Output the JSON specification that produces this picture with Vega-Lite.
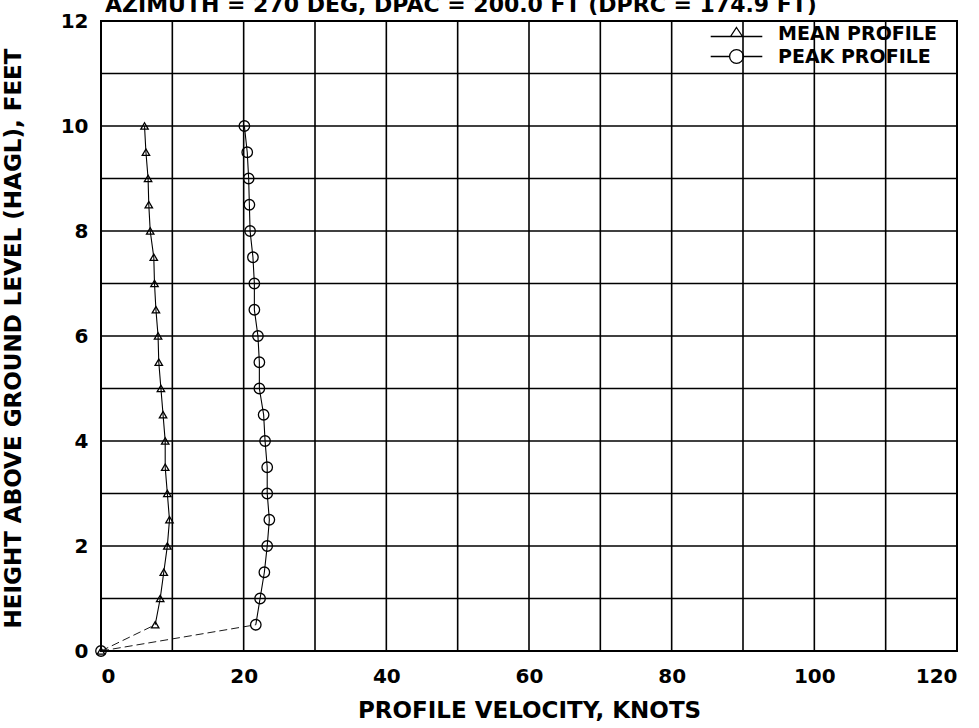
{
  "$schema": "https://vega.github.io/schema/vega-lite/v6.json",
  "width": 856,
  "height": 630,
  "autosize": {"type": "none"},
  "padding": {"left": 101, "top": 21, "right": 22, "bottom": 77},
  "background": "white",
  "config": {
    "view": {"stroke": "black", "strokeWidth": 2},
    "font": "DejaVu Sans"
  },
  "title": {
    "text": "AZIMUTH = 270 DEG, DPAC = 200.0 FT (DPRC = 174.9 FT)",
    "anchor": "start",
    "frame": "group",
    "offset": -6,
    "dx": 4,
    "font": "DejaVu Sans",
    "fontSize": 22,
    "fontWeight": "bold",
    "color": "black"
  },
  "datasets": {
    "profiles": [
      {"s": "MEAN PROFILE", "h": 0, "v": 0},
      {"s": "MEAN PROFILE", "h": 0.5, "v": 7.6},
      {"s": "MEAN PROFILE", "h": 1, "v": 8.3},
      {"s": "MEAN PROFILE", "h": 1.5, "v": 8.8},
      {"s": "MEAN PROFILE", "h": 2, "v": 9.3},
      {"s": "MEAN PROFILE", "h": 2.5, "v": 9.6},
      {"s": "MEAN PROFILE", "h": 3, "v": 9.3},
      {"s": "MEAN PROFILE", "h": 3.5, "v": 9.0},
      {"s": "MEAN PROFILE", "h": 4, "v": 9.0},
      {"s": "MEAN PROFILE", "h": 4.5, "v": 8.7},
      {"s": "MEAN PROFILE", "h": 5, "v": 8.4},
      {"s": "MEAN PROFILE", "h": 5.5, "v": 8.1},
      {"s": "MEAN PROFILE", "h": 6, "v": 8.0},
      {"s": "MEAN PROFILE", "h": 6.5, "v": 7.7},
      {"s": "MEAN PROFILE", "h": 7, "v": 7.5},
      {"s": "MEAN PROFILE", "h": 7.5, "v": 7.4},
      {"s": "MEAN PROFILE", "h": 8, "v": 6.9},
      {"s": "MEAN PROFILE", "h": 8.5, "v": 6.7},
      {"s": "MEAN PROFILE", "h": 9, "v": 6.6},
      {"s": "MEAN PROFILE", "h": 9.5, "v": 6.3},
      {"s": "MEAN PROFILE", "h": 10, "v": 6.1},
      {"s": "PEAK PROFILE", "h": 0, "v": 0},
      {"s": "PEAK PROFILE", "h": 0.5, "v": 21.7},
      {"s": "PEAK PROFILE", "h": 1, "v": 22.3},
      {"s": "PEAK PROFILE", "h": 1.5, "v": 22.9},
      {"s": "PEAK PROFILE", "h": 2, "v": 23.3},
      {"s": "PEAK PROFILE", "h": 2.5, "v": 23.6},
      {"s": "PEAK PROFILE", "h": 3, "v": 23.3},
      {"s": "PEAK PROFILE", "h": 3.5, "v": 23.3},
      {"s": "PEAK PROFILE", "h": 4, "v": 23.0},
      {"s": "PEAK PROFILE", "h": 4.5, "v": 22.8},
      {"s": "PEAK PROFILE", "h": 5, "v": 22.2},
      {"s": "PEAK PROFILE", "h": 5.5, "v": 22.2},
      {"s": "PEAK PROFILE", "h": 6, "v": 22.0},
      {"s": "PEAK PROFILE", "h": 6.5, "v": 21.5},
      {"s": "PEAK PROFILE", "h": 7, "v": 21.5},
      {"s": "PEAK PROFILE", "h": 7.5, "v": 21.3},
      {"s": "PEAK PROFILE", "h": 8, "v": 20.9},
      {"s": "PEAK PROFILE", "h": 8.5, "v": 20.8},
      {"s": "PEAK PROFILE", "h": 9, "v": 20.7},
      {"s": "PEAK PROFILE", "h": 9.5, "v": 20.5},
      {"s": "PEAK PROFILE", "h": 10, "v": 20.1}
    ],
    "base": [
      {"s": "MEAN PROFILE", "h": 0, "v": 0},
      {"s": "MEAN PROFILE", "h": 0.5, "v": 7.6},
      {"s": "PEAK PROFILE", "h": 0, "v": 0},
      {"s": "PEAK PROFILE", "h": 0.5, "v": 21.7}
    ]
  },
  "encoding": {
    "x": {
      "field": "v", "type": "quantitative",
      "scale": {"domain": [0, 120], "nice": false},
      "axis": {
        "values": [0, 20, 40, 60, 80, 100, 120],
        "grid": false,
        "domain": false,
        "ticks": false,
        "labelFont": "DejaVu Sans",
        "labelFontSize": 20,
        "labelFontWeight": "bold",
        "labelColor": "black",
        "labelPadding": 15,
        "title": "PROFILE VELOCITY, KNOTS",
        "titleFont": "DejaVu Sans",
        "titleFontSize": 23,
        "titleFontWeight": "bold",
        "titleColor": "black",
        "titlePadding": 13
      }
    },
    "y": {
      "field": "h", "type": "quantitative",
      "scale": {"domain": [0, 12], "nice": false},
      "axis": {
        "values": [0, 2, 4, 6, 8, 10, 12],
        "grid": false,
        "domain": false,
        "ticks": false,
        "labelFont": "DejaVu Sans",
        "labelFontSize": 20,
        "labelFontWeight": "bold",
        "labelColor": "black",
        "labelPadding": 13,
        "title": "HEIGHT ABOVE GROUND LEVEL (HAGL), FEET",
        "titleFont": "DejaVu Sans",
        "titleFontSize": 23,
        "titleFontWeight": "bold",
        "titleColor": "black",
        "titleX": -76,
        "titleY": 317
      }
    }
  },
  "layer": [
    {
      "data": {"values": [
        {"gx": 10}, {"gx": 20}, {"gx": 30}, {"gx": 40}, {"gx": 50},
        {"gx": 60}, {"gx": 70}, {"gx": 80}, {"gx": 90}, {"gx": 100}, {"gx": 110}
      ]},
      "mark": {"type": "rule", "color": "black", "strokeWidth": 1.6},
      "encoding": {
        "x": {"field": "gx", "type": "quantitative"},
        "y": null
      }
    },
    {
      "data": {"values": [
        {"gy": 1}, {"gy": 2}, {"gy": 3}, {"gy": 4}, {"gy": 5}, {"gy": 6},
        {"gy": 7}, {"gy": 8}, {"gy": 9}, {"gy": 10}, {"gy": 11}
      ]},
      "mark": {"type": "rule", "color": "black", "strokeWidth": 1.6},
      "encoding": {
        "y": {"field": "gy", "type": "quantitative"},
        "x": null
      }
    },
    {
      "data": {"name": "base"},
      "mark": {"type": "line", "color": "black", "strokeWidth": 0.9, "strokeDash": [8, 4]},
      "encoding": {
        "detail": {"field": "s"},
        "order": {"field": "h"}
      }
    },
    {
      "data": {"name": "profiles"},
      "transform": [{"filter": "datum.h >= 0.5"}],
      "mark": {"type": "line", "color": "black", "strokeWidth": 1.1},
      "encoding": {
        "detail": {"field": "s"},
        "order": {"field": "h"}
      }
    },
    {
      "data": {"name": "profiles"},
      "transform": [{"filter": "datum.s == 'MEAN PROFILE'"}],
      "mark": {"type": "point", "shape": "triangle-up", "filled": false, "color": "black", "strokeWidth": 1.3, "opacity": 1, "size": 55}
    },
    {
      "data": {"name": "profiles"},
      "transform": [{"filter": "datum.s == 'PEAK PROFILE'"}],
      "mark": {"type": "point", "shape": "circle", "filled": false, "color": "black", "strokeWidth": 1.3, "opacity": 1, "size": 110}
    },
    {
      "data": {"name": "profiles"},
      "transform": [{"filter": "datum.h == 0"}],
      "mark": {"type": "point", "filled": false, "color": "black", "strokeWidth": 1.3, "opacity": 1, "size": 0},
      "encoding": {
        "shape": {
          "field": "s", "type": "nominal",
          "scale": {
            "domain": ["MEAN PROFILE", "PEAK PROFILE"],
            "range": [
              "M-4.3,0.5H4.3M0,-1L1,0.5H-1Z",
              "M-4.3,0H-1.15M1.15,0H4.3M1.15,0A1.15,1.15 0 1,1 -1.15,0A1.15,1.15 0 1,1 1.15,0Z"
            ]
          },
          "legend": {
            "title": null,
            "orient": "none",
            "legendX": 626,
            "legendY": 3,
            "padding": 0,
            "labelFont": "DejaVu Sans",
            "labelFontSize": 19,
            "labelFontWeight": "bold",
            "labelColor": "black",
            "symbolStrokeColor": "black",
            "symbolFillColor": "transparent",
            "symbolStrokeWidth": 1.3,
            "symbolSize": 144,
            "symbolOpacity": 1,
            "rowPadding": 3,
            "labelOffset": 32
          }
        }
      }
    }
  ]
}
